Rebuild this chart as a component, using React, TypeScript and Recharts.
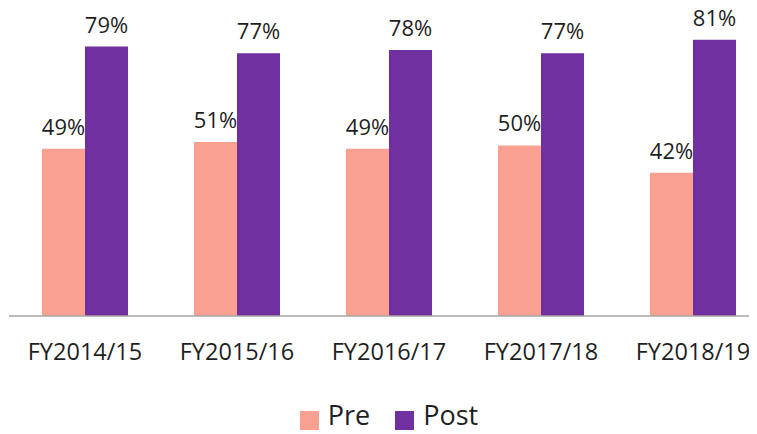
import React from "react";
import { BarChart, Bar, XAxis, YAxis, LabelList, Legend } from "recharts";

const categories = ["FY2014/15", "FY2015/16", "FY2016/17", "FY2017/18", "FY2018/19"];
const preValues = [49, 51, 49, 50, 42];
const postValues = [79, 77, 78, 77, 81];
const seriesNames = ["Pre", "Post"];
const seriesColors = ["#F9A090", "#7030A0"];

const data = categories.map((c, i) => ({ name: c, Pre: preValues[i], Post: postValues[i] }));

const FONT = "'Open Sans', sans-serif";
const TEXT = "#1f1f1f";

const LegendContent = () => (
  <div style={{ height: 58, position: "relative", fontFamily: FONT }}>
    <div
      style={{
        position: "absolute",
        top: 20,
        left: 0,
        right: 0,
        display: "flex",
        justifyContent: "center",
        alignItems: "center",
        lineHeight: "normal",
        fontSize: 27,
        color: TEXT,
      }}
    >
      {seriesNames.map((n, i) => (
        <div key={n} style={{ display: "flex", alignItems: "center", marginLeft: i === 0 ? 0 : 25 }}>
          <span style={{ width: 19, height: 19, background: seriesColors[i], display: "inline-block", marginTop: 12, marginRight: 9 }} />
          <span>{n}</span>
        </div>
      ))}
    </div>
  </div>
);

export default function App() {
  return (
    <div style={{ marginLeft: -8, marginTop: -8, width: 757, height: 434, overflow: "hidden", background: "#fff" }}>
      <BarChart
        width={770}
        height={434}
        data={data}
        margin={{ top: 9, right: 1, left: 9, bottom: 0 }}
        barGap={0}
        barSize={43}
      >
        <XAxis
          dataKey="name"
          tickLine={false}
          tickSize={6}
          tickMargin={21}
          height={60}
          axisLine={{ stroke: "#A6A6A6", strokeWidth: 1.5 }}
          tick={{ fill: TEXT, fontSize: 23.5, fontFamily: FONT }}
          interval={0}
        />
        <YAxis hide domain={[0, 90]} />
        <Legend verticalAlign="bottom" content={<LegendContent />} />
        <Bar dataKey="Pre" fill={seriesColors[0]} isAnimationActive={false}>
          <LabelList
            dataKey="Pre"
            position="top"
            offset={14}
            formatter={(v: any) => `${v}%`}
            style={{ fill: TEXT, fontSize: 22, fontFamily: FONT }}
          />
        </Bar>
        <Bar dataKey="Post" fill={seriesColors[1]} isAnimationActive={false}>
          <LabelList
            dataKey="Post"
            position="top"
            offset={14}
            formatter={(v: any) => `${v}%`}
            style={{ fill: TEXT, fontSize: 22, fontFamily: FONT }}
          />
        </Bar>
      </BarChart>
    </div>
  );
}
